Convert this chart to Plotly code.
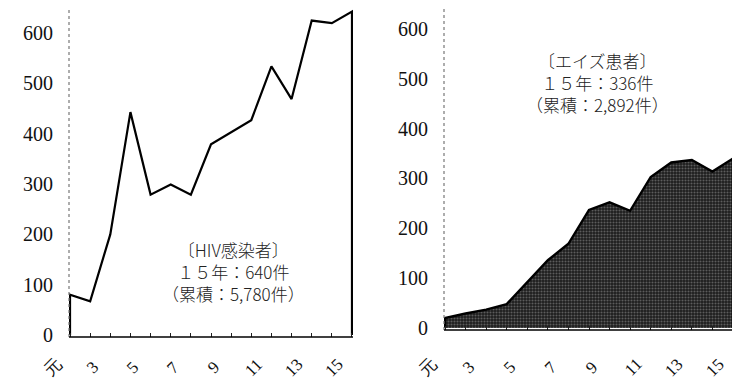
import plotly.graph_objects as go

years = list(range(1, 16))
tick_text = ["元", "", "3", "", "5", "", "7", "", "9", "", "11", "", "13", "", "15"]
hiv = [80, 67, 200, 443, 279, 299, 279, 379, 403, 427, 534, 469, 625, 620, 643]
aids = [20, 29, 37, 48, 91, 136, 169, 237, 252, 235, 303, 332, 337, 314, 340]
y_ticks = [0, 100, 200, 300, 400, 500, 600]

hiv_label = "〔HIV感染者〕<br>１５年：640件<br>（累積：5,780件）"
aids_label = "〔エイズ患者〕<br>１５年：336件<br>（累積：2,892件）"

W, H = 732, 377  # page body has an 8px margin

fig = go.Figure()

fig.add_trace(go.Scatter(
    x=[years[0]] + years + [years[-1]],
    y=[0] + hiv + [0],
    mode="lines", fill="toself", fillcolor="white",
    line=dict(color="black", width=2.2),
    xaxis="x", yaxis="y", hoverinfo="skip", showlegend=False))

fig.add_trace(go.Scatter(
    x=[years[0]] + years + [years[-1]],
    y=[0] + aids + [0],
    mode="lines", fill="toself", fillcolor="#2a2a2a",
    fillpattern=dict(shape=".", bgcolor="#1c1c1c", fgcolor="#9c9c9c",
                     size=3, solidity=0.4),
    line=dict(color="black", width=2.4),
    xaxis="x2", yaxis="y2", hoverinfo="skip", showlegend=False))

tick_font = dict(family="Liberation Serif, DejaVu Serif, serif", size=20, color="#111")
xtick_font = dict(family="Liberation Serif, DejaVu Serif, serif", size=17, color="#111")

common_x = dict(range=[0.95, 15.05], tickmode="array", tickvals=years,
                showticklabels=False, ticks="inside", ticklen=4, tickcolor="#222",
                tickwidth=1, showgrid=False, zeroline=False, showline=False,
                fixedrange=True, automargin=False)
common_y = dict(tickmode="array", tickvals=y_ticks,
                showgrid=False, zeroline=False, showline=False, ticks="",
                tickfont=tick_font, ticklabelstandoff=15, fixedrange=True,
                automargin=False)

fig.update_layout(
    width=W, height=H,
    margin=dict(l=0, r=0, t=0, b=0, autoexpand=False),
    paper_bgcolor="white", plot_bgcolor="white",
    xaxis=dict(domain=[61/W, 345/W], anchor="y", **common_x),
    yaxis=dict(domain=[48/H, 1.0], anchor="x", range=[-4, 650], **common_y),
    xaxis2=dict(domain=[436/W, 726/W], anchor="y2", **common_x),
    yaxis2=dict(domain=[55/H, 1.0], anchor="x2", range=[-4, 642], **common_y),
)

for xr, yr in (("x", "y"), ("x2", "y2")):
    fig.add_shape(type="line", xref=xr + " domain", yref=yr + " domain",
                  x0=0, x1=0, y0=0, y1=1, line=dict(color="#777", width=1.2, dash="dot"))
    fig.add_shape(type="line", xref=xr + " domain", yref=yr + " domain",
                  x0=0, x1=1, y0=0, y1=0, line=dict(color="black", width=1.6))
    for yv, lab in zip(years, tick_text):
        if lab:
            fig.add_annotation(xref=xr, yref="paper", x=yv, y=18/H, text=lab,
                               textangle=-45, showarrow=False, xshift=-18,
                               xanchor="center", yanchor="middle", font=xtick_font)

fig.add_annotation(xref="paper", yref="paper", x=225/W, y=(H - 263)/H,
                   text=hiv_label, showarrow=False, align="center",
                   xanchor="center", yanchor="middle",
                   font=dict(family="Noto Sans CJK JP", size=17, color="#222", weight=300))
fig.add_annotation(xref="paper", yref="paper", x=589/W, y=(H - 74)/H,
                   text=aids_label, showarrow=False, align="center",
                   xanchor="center", yanchor="middle",
                   font=dict(family="Noto Sans CJK JP", size=17, color="#222", weight=300))

fig.write_html("out.html")
